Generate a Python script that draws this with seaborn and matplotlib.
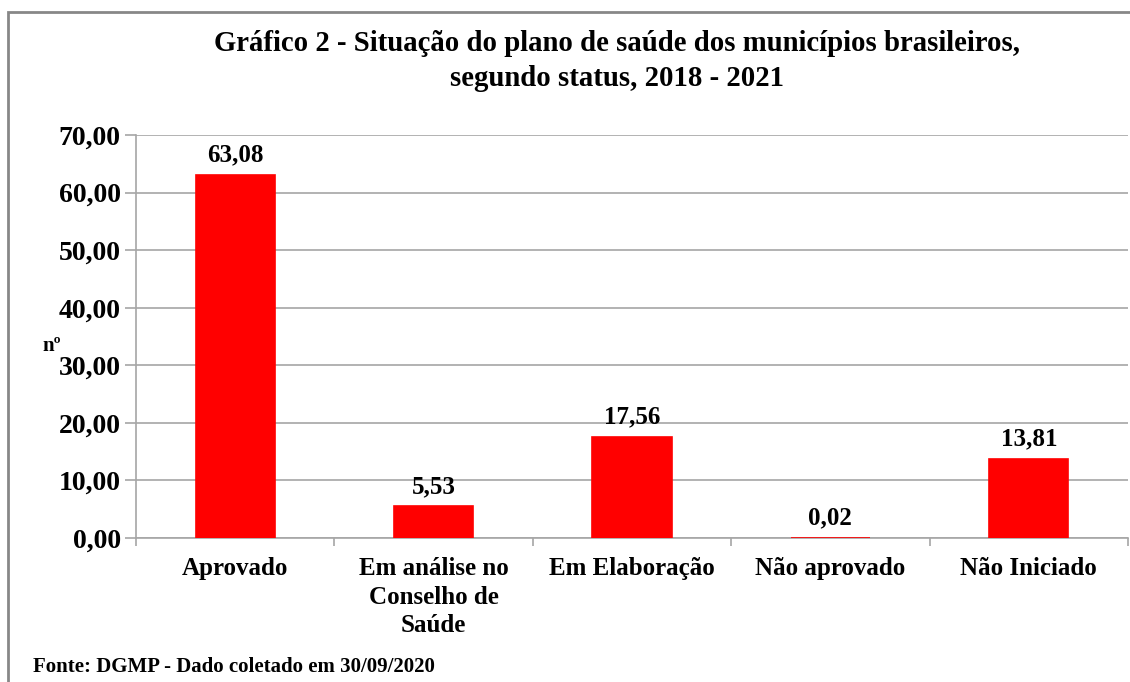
import matplotlib
matplotlib.use("Agg")
import matplotlib.pyplot as plt
import matplotlib.patches as mpatches
import seaborn as sns
import pandas as pd

categorias = ["Aprovado", "Em análise no\nConselho de\nSaúde", "Em Elaboração",
              "Não aprovado", "Não Iniciado"]
valores = [63.08, 5.53, 17.56, 0.02, 13.81]
y_ticks = [0, 10, 20, 30, 40, 50, 60, 70]

titulo = "Gráfico 2 - Situação do plano de saúde dos municípios brasileiros,\nsegundo status, 2018 - 2021"
fonte = "Fonte: DGMP - Dado coletado em 30/09/2020"

sns.set_theme(style="white")
plt.rcParams['font.family'] = ['Liberation Serif', 'DejaVu Serif']
plt.rcParams['font.weight'] = 'bold'
plt.rcParams['text.color'] = 'black'
plt.rcParams['xtick.color'] = 'black'
plt.rcParams['ytick.color'] = 'black'

df = pd.DataFrame({"status": categorias, "valor": valores})

fig = plt.figure(figsize=(11.3, 6.82), dpi=100)
ax = fig.add_axes([0.1204, 0.2111, 0.8778, 0.5910])

sns.barplot(data=df, x="status", y="valor", color="#ff0000", saturation=1,
            width=0.4, ax=ax, zorder=3, edgecolor="#ff0000", linewidth=1.2)

ax.set_ylim(0, 70)
ax.set_xlim(-0.5, len(categorias) - 0.5)
ax.set_yticks(y_ticks)
ax.set_yticklabels([f"{v:.2f}".replace(".", ",") for v in y_ticks],
                   fontsize=20, fontweight="bold", color="black")
ax.set_xticklabels(categorias, fontsize=18, fontweight="bold", linespacing=1.3,
                   color="black")
ax.grid(axis="y", color="#a6a6a6", linewidth=1.2, zorder=0)
ax.set_axisbelow(True)

for s in ["top", "right"]:
    ax.spines[s].set_visible(False)
for s in ["left", "bottom"]:
    ax.spines[s].set_color("#a6a6a6")
    ax.spines[s].set_linewidth(1.2)
    ax.spines[s].set_zorder(2)

ax.tick_params(axis="y", which="major", length=8, width=1.2, color="#a6a6a6",
               labelcolor="black", pad=3, left=True)
ax.tick_params(axis="x", which="major", length=0, pad=14, labelcolor="black")
ax.set_xticks([i - 0.5 for i in range(len(categorias) + 1)], minor=True)
ax.tick_params(axis="x", which="minor", length=6, width=1.2, color="#a6a6a6",
               bottom=True)

for i, v in enumerate(valores):
    ax.annotate(f"{v:.2f}".replace(".", ","), (i, v), xytext=(0, 6),
                textcoords="offset points", ha="center", va="bottom",
                fontsize=18, fontweight="bold", color="black")

ax.set_xlabel("")
ax.set_ylabel("")
fig.text(52 / 1130, 1 - 346 / 682, "nº", fontsize=15, fontweight="bold",
         ha="center", va="center", color="black")

fig.text(617 / 1130, 1 - 61 / 682, titulo, fontsize=20.7, fontweight="bold",
         ha="center", va="center", linespacing=1.35, color="black")
fig.text(33 / 1130, 1 - 667 / 682, fonte, fontsize=15, fontweight="bold",
         ha="left", va="center", color="black")

borda = mpatches.Rectangle((8 / 1130, -0.1), 1.1, 1 - 12 / 682 + 0.1,
                           transform=fig.transFigure, fill=False,
                           edgecolor="#878787", linewidth=2, clip_on=False)
fig.patches.append(borda)

fig.savefig("out.png", dpi=100)
